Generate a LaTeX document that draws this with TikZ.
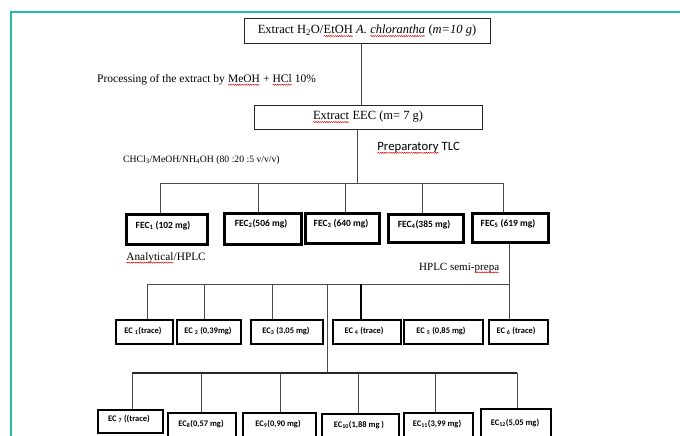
\documentclass[tikz,border=0pt]{standalone}
\usepackage{fontspec}
\setmainfont{Liberation Serif}
\newfontfamily\calfont{Carlito}
\usetikzlibrary{decorations.pathmorphing}
\newcommand\sq[1]{\tikz[baseline=(w.base)]{\node[inner sep=0pt,outer sep=0pt,minimum width=0pt,minimum height=0pt,draw=none,fill=none,anchor=base] (w) at (0,0) {#1};
  \draw[red!85!black, line width=0.45pt, decorate, decoration={snake,amplitude=0.55pt,segment length=2.2pt}]
    ([yshift=-2.2pt]w.base west) -- ([yshift=-2.2pt]w.base east);}}
\definecolor{frameteal}{RGB}{40,185,160}
\begin{document}
\begin{tikzpicture}[x=1pt,y=-1pt,
  conn/.style={line width=0.9pt, draw=black!70},
  thinbox/.style={draw=black!85, line width=0.9pt, inner sep=0pt},
  fecbox/.style={draw=black, line width=2.6pt, anchor=north west, inner sep=0pt},
  ecbox/.style={draw=black, line width=2.2pt, anchor=north west, inner sep=0pt},
  fectext/.style={font=\calfont\bfseries\fontsize{9.5}{11}\selectfont, inner sep=0pt},
  ectext/.style={font=\calfont\bfseries\fontsize{8.5}{10}\selectfont, inner sep=0pt},
  lab/.style={anchor=west, inner sep=0pt}]
\clip (0,0) rectangle (680,436);
\fill[white] (0,0) rectangle (680,436);
\draw[frameteal, line width=1.4pt] (11,440) -- (11,12) -- (684,12);

% top boxes
\node[thinbox, minimum width=246, minimum height=25, font=\fontsize{12.5}{14}\selectfont] (top) at (367,31)
  {Extract H\textsubscript{2}O/\sq{EtOH} \textit{A. \sq{chlorantha}} (\textit{m=10 g})};
\node[thinbox, minimum width=228, minimum height=24, font=\fontsize{12.5}{14}\selectfont] (eec) at (368,117)
  {\sq{Extract} EEC (m= 7 g)};
\coordinate (v1) at (361,60);
\draw[conn] (top.south -| v1) -- (eec.north -| v1);

% labels
\node[lab, font=\fontsize{11.5}{13}\selectfont] (l1) at (97,80) {Processing of the extract by \sq{MeOH} + \sq{HCl} 10\%};
\node[lab, font=\calfont\fontsize{12.7}{14}\selectfont] (l2) at (377,148) {\sq{Preparatory} TLC};
\node[lab, font=\fontsize{9.7}{11}\selectfont] (l3) at (123,160) {CHCl\textsubscript{3}/MeOH/NH\textsubscript{4}OH (80 :20 :5 v/v/v)};
\node[lab, font=\fontsize{11.3}{13}\selectfont] (l4) at (126,258) {\sq{Analytical}/HPLC};
\node[lab, font=\fontsize{11}{13}\selectfont] (l5) at (419,268) {HPLC semi-\sq{prepa}};

% FEC boxes
\node[fecbox, minimum width=81, minimum height=30] (f1) at (125,213) {};
\node[fecbox, minimum width=77, minimum height=31] (f2) at (223,212) {};
\node[fecbox, minimum width=74, minimum height=30] (f3) at (304,212) {};
\node[fecbox, minimum width=75, minimum height=28] (f4) at (387,213) {};
\node[fecbox, minimum width=76, minimum height=29] (f5) at (471,212) {};
\node[fectext] (tf1) at (163,226) {FEC\textsubscript{1} (102 mg)};
\node[fectext] (tf2) at (261,224) {FEC\textsubscript{2}(506 mg)};
\node[fectext] (tf3) at (341,224) {FEC\textsubscript{3} (640 mg)};
\node[fectext] (tf4) at (424,225) {FEC\textsubscript{4}(385 mg)};
\node[fectext] (tf5) at (508,224) {FEC\textsubscript{5} (619 mg)};

% bar 1
\coordinate (a0) at (357,183);
\coordinate (a1) at (160,183);
\coordinate (a2) at (258,183);
\coordinate (a3) at (345,183);
\coordinate (a4) at (422,183);
\coordinate (a5) at (503,183);
\draw[conn] (eec.south -| a0) -- (a0);
\draw[conn] (a1) -- (a5);
\draw[conn] (a1) -- (f1.north -| a1);
\draw[conn] (a2) -- (f2.north -| a2);
\draw[conn] (a3) -- (f3.north -| a3);
\draw[conn] (a4) -- (f4.north -| a4);
\draw[conn] (a5) -- (f5.north -| a5);

% EC boxes row 1
\node[ecbox, minimum width=57, minimum height=24] (e1) at (115,319) {};
\node[ecbox, minimum width=64, minimum height=24] (e2) at (176,319) {};
\node[ecbox, minimum width=72, minimum height=24] (e3) at (250,319) {};
\node[ecbox, minimum width=68, minimum height=24] (e4) at (332,319) {};
\node[ecbox, minimum width=79, minimum height=24] (e5) at (403,319) {};
\node[ecbox, minimum width=59, minimum height=24] (e6) at (488,319) {};
\node[ectext] (te1) at (143,331) {EC \textsubscript{1}(trace)};
\node[ectext] (te2) at (208,331) {EC \textsubscript{2} (0,39mg)};
\node[ectext] (te3) at (286,331) {EC\textsubscript{3} (3,05 mg)};
\node[ectext] (te4) at (364,331) {EC \textsubscript{4} (trace)};
\node[ectext] (te5) at (441,331) {EC \textsubscript{5} (0,85 mg)};
\node[ectext] (te6) at (516,331) {EC \textsubscript{6} (trace)};

% bar 2
\coordinate (c1) at (147,284);
\coordinate (c2) at (204,284);
\coordinate (c3) at (272,284);
\coordinate (c4) at (327,284);
\coordinate (c5) at (361,284);
\coordinate (c6) at (509,284);
\coordinate (d4) at (327,373);
\draw[conn] (f5.south -| c6) -- (c6);
\draw[conn] (c1) -- (c6);
\draw[conn] (c1) -- (e1.north -| c1);
\draw[conn] (c2) -- (e2.north -| c2);
\draw[conn] (c3) -- (e3.north -| c3);
\draw[conn] (c4) -- (d4);
\draw[conn, line width=1.6pt, draw=black] (c5) -- (e4.north -| c5);
\draw[conn] (c6) -- (e6.north -| c6);

% EC boxes row 2
\node[ecbox, minimum width=65, minimum height=23] (e7) at (97,409) {};
\node[ecbox, minimum width=68, minimum height=30] (e8) at (167,412) {};
\node[ecbox, minimum width=73, minimum height=30] (e9) at (242,412) {};
\node[ecbox, minimum width=77, minimum height=30] (e10) at (321,413) {};
\node[ecbox, minimum width=69, minimum height=30] (e11) at (403,412) {};
\node[ecbox, minimum width=70, minimum height=34] (e12) at (480,408) {};
\node[ectext] (te7) at (129,419) {EC \textsubscript{7} ((trace)};
\node[ectext] (te8) at (201,424) {EC\textsubscript{8}(0,57 mg)};
\node[ectext] (te9) at (278,424) {EC\textsubscript{9}(0,90 mg)};
\node[ectext] (te10) at (359,425) {EC\textsubscript{10}(1,88 mg )};
\node[ectext] (te11) at (437,424) {EC\textsubscript{11}(3,99 mg)};
\node[ectext] (te12) at (515,423) {EC\textsubscript{12}(5,05 mg)};

% bar 3
\coordinate (g1) at (132,373);
\coordinate (g2) at (201,373);
\coordinate (g3) at (280,373);
\coordinate (g4) at (358,373);
\coordinate (g5) at (435,373);
\coordinate (g6) at (517,373);
\draw[conn, line width=1.8pt, draw=black!85] (g1) -- (g6);
\draw[conn] (g1) -- (e7.north -| g1);
\draw[conn] (g2) -- (e8.north -| g2);
\draw[conn] (g3) -- (e9.north -| g3);
\draw[conn] (g4) -- (e10.north -| g4);
\draw[conn] (g5) -- (e11.north -| g5);
\draw[conn] (g6) -- (e12.north -| g6);
\end{tikzpicture}
\end{document}
